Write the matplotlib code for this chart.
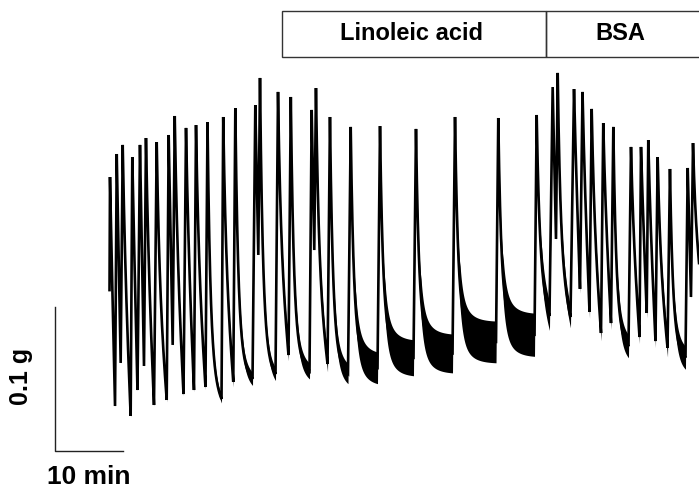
import numpy as np
import matplotlib
matplotlib.use("Agg")
import matplotlib.pyplot as plt
from matplotlib.patches import Rectangle

plt.rcParams['font.family'] = ['Liberation Sans', 'DejaVu Sans']

# Contraction record: time in minutes, force in grams
rise_time = [-0.07, 0.74, 1.57, 3.04, 4.04, 5.00, 6.47, 8.34, 9.22, 10.81,
             12.35, 14.04, 16.40, 18.13, 20.96, 21.81, 24.34, 26.25, 29.34, 30.04,
             31.99, 35.00, 39.34, 44.63, 50.37, 56.77, 62.43, 64.63, 65.59, 67.72,
             69.12, 70.52, 72.21, 73.68, 76.25, 77.87, 78.93, 80.22, 81.99, 84.63,
             85.44]
rise_force = [0.118, 0.0375, 0.0674, 0.0306, 0.0486, 0.0653, 0.0382, 0.0417, 0.0799, 0.0458,
              0.0486, 0.0507, 0.0424, 0.0542, 0.0563, 0.1424, 0.0597, 0.0729, 0.0618, 0.1458,
              0.0667, 0.0600, 0.0640, 0.0710, 0.0740, 0.0820, 0.0870, 0.1000, 0.1535, 0.0993,
              0.1188, 0.1028, 0.0882, 0.0951, 0.0790, 0.0854, 0.1021, 0.0826, 0.0780, 0.0710,
              0.1132]
peak_time = [0.00, 0.99, 1.87, 3.28, 4.41, 5.29, 6.87, 8.63, 9.52, 11.18,
             12.65, 14.34, 16.65, 18.43, 21.37, 22.06, 24.71, 26.59, 29.66, 30.29,
             32.35, 35.40, 39.71, 45.00, 50.74, 57.10, 62.75, 65.10, 65.84, 68.24,
             69.49, 70.84, 72.54, 74.02, 76.62, 78.09, 79.16, 80.54, 82.35, 84.96,
             85.74]
peak_force = [0.1965, 0.2125, 0.2188, 0.2104, 0.2188, 0.2236, 0.2208, 0.2257, 0.2389, 0.2306,
              0.2326, 0.2347, 0.2382, 0.2444, 0.2465, 0.2653, 0.2556, 0.2521, 0.2431, 0.2583,
              0.2382, 0.2313, 0.2319, 0.2299, 0.2382, 0.2375, 0.2396, 0.2590, 0.2688, 0.2576,
              0.2556, 0.2438, 0.2340, 0.2313, 0.2174, 0.2174, 0.2222, 0.2104, 0.2021, 0.2028,
              0.2201]
# half-width of the baseline noise during relaxation after each contraction (g)
noise_amp = [0.0010, 0.0010, 0.0010, 0.0010, 0.0010, 0.0010, 0.0014, 0.0010, 0.0014, 0.0014,
             0.0018, 0.0028, 0.0035, 0.0045, 0.0010, 0.0045, 0.0040, 0.0055, 0.0010, 0.0055,
             0.0070, 0.0110, 0.0125, 0.0135, 0.0145, 0.0150, 0.0100, 0.0025, 0.0075, 0.0030,
             0.0045, 0.0055, 0.0045, 0.0080, 0.0045, 0.0035, 0.0045, 0.0065, 0.0080, 0.0025,
             0.0045]
end_time = 87.2
end_force = 0.111

# treatment periods (min)
periods = [("Linoleic acid", 25.25, 64.12), ("BSA", 64.12, 97.0)]
label_x = [44.4, 75.1]

# scale bar
bar_t0, bar_f0 = -8.09, 0.00625
bar_len_t, bar_len_f = 10.0, 0.1

TAU_FAST, TAU_SLOW, W_FAST = 0.42, 1.3, 0.8
NOISE_ONSET = 0.75  # min after the peak until the noise is fully developed


def relaxation(d, D):
    g = W_FAST * np.exp(-d / TAU_FAST) + (1 - W_FAST) * np.exp(-d / TAU_SLOW)
    gD = W_FAST * np.exp(-D / TAU_FAST) + (1 - W_FAST) * np.exp(-D / TAU_SLOW)
    expo = (g - gD) / (1 - gD)
    lin = 1 - d / D
    w = np.clip((D - 0.6) / 1.5, 0, 1)
    return w * expo + (1 - w) * lin


ts, fs, amps = [], [], []
n = len(peak_time)
prev_amp = 0.0
for i in range(n):
    tr = np.linspace(rise_time[i], peak_time[i], 10)
    fr = np.linspace(rise_force[i], peak_force[i], 10)
    ar = np.linspace(prev_amp, 0, 10)
    t_next = rise_time[i + 1] if i + 1 < n else end_time
    f_next = rise_force[i + 1] if i + 1 < n else end_force
    D = t_next - peak_time[i]
    d = np.linspace(0, D, max(int(D / 0.01), 30))
    s = relaxation(d, D)
    fd = f_next + (peak_force[i] - f_next) * s
    ad = noise_amp[i] * np.clip(d / NOISE_ONSET, 0, 1) ** 1.5
    ts += [tr, peak_time[i] + d[1:-1]]
    fs += [fr, fd[1:-1]]
    amps += [ar, ad[1:-1]]
    prev_amp = ad[-2]
t = np.concatenate(ts)
f = np.concatenate(fs)
a = np.concatenate(amps)

fig = plt.figure(figsize=(6.99, 4.88), dpi=100)
ax = fig.add_axes([0, 0, 1, 1])
ax.set_xlim(-16.176, 86.62)
ax.set_ylim(-0.01944, 0.31944)
ax.axis('off')

ax.fill_between(t, f - a, f + a, color='black', lw=0)
ax.plot(t, f, color='black', lw=1.9, solid_joinstyle='miter')

# scale bars
ax.plot([bar_t0, bar_t0, bar_t0 + bar_len_t],
        [bar_f0 + bar_len_f, bar_f0, bar_f0], color='#222222', lw=1.0)
ax.text(-13.09, 0.0583, "0.1 g", rotation=90, ha='center', va='center',
        fontsize=18, fontweight='bold')
ax.text(-3.09, -0.0118, "10 min", ha='center', va='center',
        fontsize=19, fontweight='bold')

# treatment bars
box_bottom, box_top = 0.2799, 0.3118
for (name, t0, t1), lx in zip(periods, label_x):
    ax.add_patch(Rectangle((t0, box_bottom), t1 - t0, box_top - box_bottom,
                           fill=False, edgecolor='#333333', lw=1.0))
    ax.text(lx, (box_bottom + box_top) / 2, name, ha='center', va='center',
            fontsize=17, fontweight='bold')

fig.savefig("out.png", dpi=100)
